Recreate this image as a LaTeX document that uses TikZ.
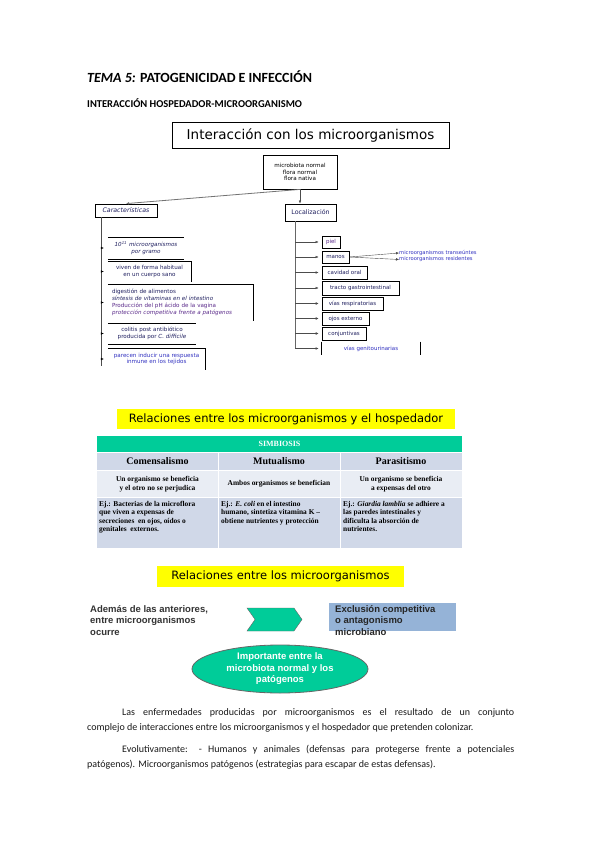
\documentclass[tikz,border=0pt]{standalone}
\usepackage{fontspec}
\setmainfont{Carlito}
\newfontfamily\comic{DejaVu Sans}
\newfontfamily\timesf{Liberation Serif}
\newfontfamily\arialf{Liberation Sans}
\usepackage{tikz}
\usetikzlibrary{arrows.meta,calc,positioning,shapes.geometric,shapes.symbols}
\definecolor{simgreen}{HTML}{00CC99}
\definecolor{rowdark}{HTML}{D0D8E8}
\definecolor{rowlight}{HTML}{E9EDF4}
\definecolor{bandyellow}{HTML}{FFFF00}
\definecolor{exclblue}{HTML}{95B3D7}
\definecolor{ink}{HTML}{1F1F5F}
\definecolor{itemblue}{HTML}{3030C0}
\definecolor{itempurple}{HTML}{5A2A8A}

\begin{document}
\begin{tikzpicture}[x=1pt,y=-1pt,
  tip/.style={-{Latex[length=3pt,width=2.6pt]}},
  lbox/.style={draw,line width=0.9pt,inner sep=0pt,font=\comic\fontsize{5.5}{6.5}\selectfont,text=ink},
  item/.style={inner sep=4pt,font=\comic\fontsize{5.6}{6.9}\selectfont,text=ink,align=center},
  cell/.style={font=\timesf\bfseries\fontsize{7.4}{8.4}\selectfont,inner sep=0pt},
  band/.style={fill=bandyellow,inner sep=0pt,font=\comic\fontsize{11.5}{13}\selectfont},
  body/.style={font=\fontsize{10}{15}\selectfont,align=left,inner sep=0pt,anchor=north west,text=black!90}]

  \useasboundingbox[fill=white] (0,0) rectangle (599,848);

  % cabecera
  \node[anchor=base west,inner sep=0pt,font=\bfseries\fontsize{14}{16}\selectfont] (tema) at (87,83) {\textit{TEMA 5:} PATOGENICIDAD E INFECCIÓN};
  \node[anchor=base west,inner sep=0pt,font=\bfseries\fontsize{10.5}{12}\selectfont] (inter) at (87,108) {INTERACCIÓN HOSPEDADOR-MICROORGANISMO};

  % mapa de interaccion
  \node[draw,line width=1pt,minimum width=277pt,minimum height=25pt,inner sep=0pt,font=\comic\fontsize{13.5}{15}\selectfont] (titulo) at (310.5,135.5) {Interacción con los microorganismos};
  \node[draw,line width=0.8pt,minimum width=74pt,minimum height=34pt,inner sep=0pt,align=center,font=\comic\fontsize{5.6}{6.6}\selectfont] (micro) at (300,172) {microbiota normal\\flora normal\\flora nativa};
  \node[draw,line width=0.8pt,minimum width=62pt,minimum height=13pt,inner sep=0pt,font=\comic\itshape\fontsize{6.3}{7}\selectfont,text=ink] (carac) at (126,210.5) {Características};
  \node[draw,line width=1pt,minimum width=51pt,minimum height=17pt,inner sep=0pt,font=\comic\fontsize{6.3}{7}\selectfont,text=ink] (loc) at (310.5,212.5) {Localización};
  \draw[tip,black!55,line width=0.8pt] (micro.south) -- (carac.north);
  \draw[tip,black!70] (micro.south) -- (micro.south |- loc.north);

  % caracteristicas
  \coordinate (cspine) at (101,217);
  \coordinate (cend) at (101,366);
  \draw[black!70,line width=0.8pt] (cspine) -- (cend);
  \node[item,minimum width=76pt,minimum height=20pt] (i1) at (146,248) {\textit{10\textsuperscript{11} microorganismos}\\\textit{por gramo}};
  \node[item,minimum width=83pt,minimum height=21pt] (i2) at (149.5,271.5) {viven de forma habitual\\en un cuerpo sano};
  \node[item,minimum width=145pt,minimum height=37pt,text width=137pt,align=left] (i3) at (180.5,302.5) {digestión de alimentos\\\textit{síntesis de vitaminas en el intestino}\\\textcolor{itempurple}{Producción del pH ácido de la vagina}\\\textcolor{itempurple}{\textit{protección competitiva frente a patógenos}}};
  \node[item,minimum width=88pt,minimum height=17pt] (i4) at (152,333.5) {colitis post antibiótico\\producida por \textit{C. difficile}};
  \node[item,minimum width=97pt,minimum height=22pt,text=itemblue] (i5) at (156.5,359) {parecen inducir una respuesta\\inmune en los tejidos};
  \draw (i1.north west) -- (i1.north east) (i1.south west) -- (i1.south east);
  \draw (i2.north west) -- (i2.north east) -- (i2.south east);
  \draw (i3.north west) -- (i3.north east) -- (i3.south east);
  \draw (i4.north west) -- (i4.north east) (i4.south west) -- (i4.south east);
  \draw (i5.north west) -- (i5.north east) -- (i5.south east);
  \foreach \n in {i1,i2,i3,i4,i5}
    \draw[tip,shorten >=4pt] (cspine |- \n.west) -- (\n.west);

  % localizacion
  \node[lbox,minimum width=18pt,minimum height=12pt,text=itempurple] (piel) at (331,242) {piel};
  \node[lbox,minimum width=27pt,minimum height=12pt] (manos) at (335.5,257) {manos};
  \node[lbox,minimum width=45pt,minimum height=13pt] (oral) at (344.5,272.5) {cavidad oral};
  \node[lbox,minimum width=77pt,minimum height=14pt] (gastro) at (360.5,288) {tracto gastrointestinal};
  \node[lbox,line width=0.6pt,minimum width=61pt,minimum height=13pt] (resp) at (352.5,303.5) {vías respiratorias};
  \node[lbox,line width=0.6pt,minimum width=47pt,minimum height=13pt] (ojos) at (345.5,318.5) {ojos externo};
  \node[lbox,line width=0.6pt,minimum width=44pt,minimum height=13pt] (conj) at (344,333.5) {conjuntivas};
  \node[lbox,draw=none,minimum width=98pt,minimum height=13pt,text=itemblue] (genito) at (371,348.5) {vías genitourinarias};
  \draw[line width=0.6pt] (genito.north west) -- (genito.south west) (genito.north east) -- (genito.south east);
  \coordinate (lspine) at (295,221);
  \draw[black!60,line width=0.8pt] (lspine) -- (lspine |- genito.west);
  \foreach \n in {piel,manos,oral,gastro,resp,ojos,conj,genito}
    \draw[tip,black!70,shorten >=3pt] (lspine |- \n.west) -- (\n.west);
  \node[anchor=west,inner sep=0pt,font=\comic\fontsize{5.2}{6}\selectfont,text=itemblue] (trans) at (399,253) {microorganismos transeúntes};
  \node[anchor=west,inner sep=0pt,font=\comic\fontsize{5.2}{6}\selectfont,text=itemblue] (resid) at (399,259.5) {microorganismos residentes};
  \draw[tip,black!70] (manos.east) -- (trans.west);
  \draw[tip,black!70] (manos.east) -- (resid.west);

  % simbiosis
  \node[band,minimum width=338pt,minimum height=20pt] (rel1) at (286,419) {Relaciones entre los microorganismos y el hospedador};
  \fill[simgreen] (97,436) rectangle (462,452);
  \fill[rowdark] (97,453) rectangle (462,470);
  \fill[rowlight] (97,471) rectangle (462,497);
  \fill[rowdark] (97,498) rectangle (462,548);
  \draw[white,line width=1pt] (218,453) -- (218,548) (340,453) -- (340,548);
  \node[cell,text=white,font=\timesf\bfseries\fontsize{8}{9}\selectfont] (simb) at (279.5,444) {SIMBIOSIS};
  \node[cell,font=\timesf\bfseries\fontsize{10}{11}\selectfont] (comen) at (157.5,461.5) {Comensalismo};
  \node[cell,font=\timesf\bfseries\fontsize{10}{11}\selectfont] (mutu) at (279,461.5) {Mutualismo};
  \node[cell,font=\timesf\bfseries\fontsize{10}{11}\selectfont] (para) at (401,461.5) {Parasitismo};
  \node[cell,align=center] (d1) at (157.5,484) {Un organismo se beneficia\\y el otro no se perjudica};
  \node[cell,align=center] (d2) at (279,484) {Ambos organismos se benefician};
  \node[cell,align=center] (d3) at (401,484) {Un organismo se beneficia\\a expensas del otro};
  \node[cell,align=left,anchor=north west] (e1) at (99,501) {Ej.: Bacterias de la microflora\\que viven a expensas de\\secreciones \ en ojos, oídos o\\genitales \ externos.};
  \node[cell,align=left,anchor=north west] (e2) at (221,501) {Ej.: \textit{E. coli} en el intestino\\humano, sintetiza vitamina K –\\obtiene nutrientes y protección};
  \node[cell,align=left,anchor=north west] (e3) at (343,501) {Ej.: \textit{Giardia lamblia} se adhiere a\\las paredes intestinales y\\dificulta la absorción de\\nutrientes.};

  % relaciones entre microorganismos
  \node[band,minimum width=247pt,minimum height=21pt] (rel2) at (280.5,576.5) {Relaciones entre los microorganismos};
  \node[anchor=north west,inner sep=0pt,align=left,text=black!80,font=\arialf\bfseries\fontsize{9.5}{11.7}\selectfont] (ademas) at (90,605) {Además de las anteriores,\\entre microorganismos\\ocurre};
  \node[signal,signal from=west,signal to=east,signal pointer angle=110,fill=simgreen,draw=black!60,minimum width=55pt,minimum height=23pt] (chev) at (274.5,619.5) {};
  \node[fill=exclblue,minimum width=127pt,minimum height=28pt] (excl) at (392.5,617) {};
  \node[anchor=north west,inner sep=0pt,align=left,text=black!85,font=\arialf\bfseries\fontsize{9.5}{11.7}\selectfont] (excltxt) at (335,605) {Exclusión competitiva\\o antagonismo\\microbiano};
  \node[ellipse,fill=simgreen,draw=black!60,line width=0.8pt,minimum width=176pt,minimum height=48pt,inner sep=0pt,text=white,align=center,font=\arialf\bfseries\fontsize{9.5}{11.5}\selectfont] (impor) at (280,669) {Importante entre la\\microbiota normal y los\\patógenos};

  % texto
  \node[body] (par1) at (87,708) {\makebox[427pt][s]{\hspace{35pt}Las enfermedades producidas por microorganismos es el resultado de un conjunto}\\complejo de interacciones entre los microorganismos y el hospedador que pretenden colonizar.};
  \node[body] (par2) at (87,745) {\makebox[427pt][s]{\hspace{35pt}Evolutivamente: - Humanos y animales (defensas para protegerse frente a potenciales}\\patógenos). Microorganismos patógenos (estrategias para escapar de estas defensas).};
\end{tikzpicture}
\end{document}
